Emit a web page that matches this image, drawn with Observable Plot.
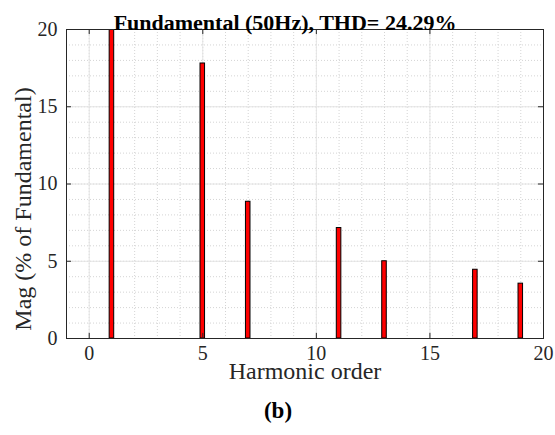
<!DOCTYPE html>
<html><head><meta charset="utf-8">
<script src="https://cdn.jsdelivr.net/npm/d3@7"></script>
<script src="https://cdn.jsdelivr.net/npm/@observablehq/plot@0.6"></script>
<style>
body{margin:0;background:#fff}
svg text{font-family:"Liberation Serif","Times New Roman",serif !important;}
</style>
</head><body><div id="chart"></div>
<script>
const harmonics = [1, 5, 7, 11, 13, 17, 19];
const mags = [100, 17.8, 8.85, 7.15, 5.0, 4.45, 3.55];
const xTicks = [0, 5, 10, 15, 20];
const yTicks = [0, 5, 10, 15, 20];
const title = "Fundamental (50Hz), THD= 24.29%";
const xLabel = "Harmonic order";
const yLabel = "Mag (% of Fundamental)";
const caption = "(b)";

const data = harmonics.map((h, i) => ({h, m: mags[i]}));
const minorX = d3.range(-1, 21);
const minorY = d3.range(0, 21);
const bw = 0.1;
const serif = "Liberation Serif";

const chart = Plot.plot({
  width: 555, height: 435,
  marginLeft: 66, marginRight: 12, marginTop: 29, marginBottom: 97,
  style: {fontFamily: serif, fontSize: "20px", color: "#262626", background: "#fff"},
  x: {domain: [-1, 20], ticks: xTicks},
  y: {domain: [0, 20], ticks: yTicks},
  marks: [
    Plot.gridX(minorX, {stroke: "#d4d4d4", strokeOpacity: 1, strokeDasharray: "1,2"}),
    Plot.gridY(minorY, {stroke: "#d4d4d4", strokeOpacity: 1, strokeDasharray: "1,2"}),
    Plot.gridX(xTicks, {stroke: "#e4e4e4", strokeOpacity: 1}),
    Plot.gridY(yTicks, {stroke: "#e4e4e4", strokeOpacity: 1}),
    Plot.rectY(data, {x1: d => d.h - bw, x2: d => d.h + bw, y1: 0, y2: "m", fill: "#ff0000", stroke: "#000", strokeWidth: 1, clip: true}),
    Plot.ruleX(xTicks, {y1: 0, y2: 0.33, stroke: "#262626"}),
    Plot.ruleX(xTicks, {y1: 20, y2: 19.67, stroke: "#262626"}),
    Plot.ruleY(yTicks, {x1: -1, x2: -0.78, stroke: "#262626"}),
    Plot.ruleY(yTicks, {x1: 20, x2: 19.78, stroke: "#262626"}),
    Plot.frame({stroke: "#262626"}),
    Plot.axisX(xTicks, {tickSize: 0, tickPadding: 7, label: null, fill: "#262626", fontSize: 20, fontFamily: serif}),
    Plot.axisY(yTicks, {tickSize: 0, tickPadding: 9, label: null, fill: "#262626", fontSize: 20, fontFamily: serif}),
    Plot.text([title], {frameAnchor: "top", dx: -20, dy: -15, fontWeight: "bold", fontSize: 22, fill: "#000", fontFamily: serif}),
    Plot.text([xLabel], {frameAnchor: "bottom", dy: 40, fontSize: 24, fill: "#262626", fontFamily: serif}),
    Plot.text([yLabel], {frameAnchor: "left", textAnchor: "middle", dx: -43, dy: 25, rotate: -90, fontSize: 24, fill: "#262626", fontFamily: serif}),
    Plot.text([caption], {frameAnchor: "bottom", dx: -27, dy: 79, fontWeight: "bold", fontSize: 23, fill: "#000", fontFamily: serif})
  ]
});
document.getElementById("chart").append(chart);
</script></body></html>
